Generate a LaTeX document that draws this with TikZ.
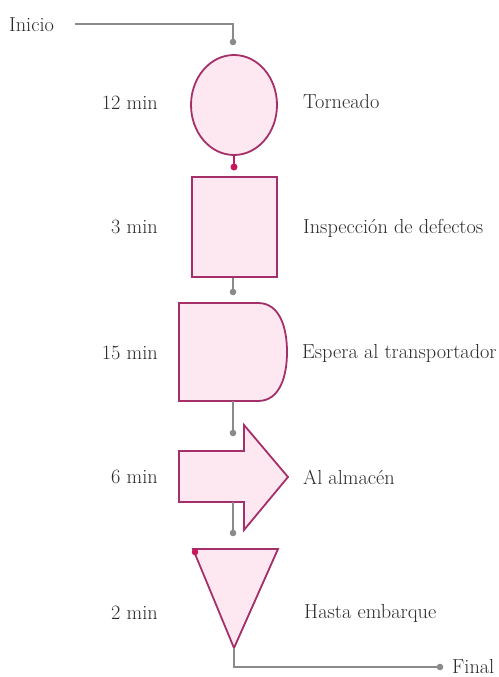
\documentclass[tikz,border=0pt]{standalone}
\usetikzlibrary{calc,shapes.geometric}
\definecolor{shapeline}{HTML}{A52F69}
\definecolor{shapefill}{HTML}{FDE7F0}
\definecolor{conn}{HTML}{8A8A8A}
\definecolor{pinkdot}{HTML}{C8175C}
\definecolor{txt}{HTML}{2A2A2A}
\begin{document}
\begin{tikzpicture}[x=1pt,y=-1pt,
  shp/.style={draw=shapeline,fill=shapefill,line width=1.8pt,line join=miter},
  cline/.style={draw=conn,line width=1.2pt},
  gdot/.style={fill=conn},
  pdot/.style={fill=pinkdot},
  lbl/.style={inner sep=0pt,text=txt,font=\fontsize{20.3}{24}\selectfont}]
\useasboundingbox (0,0) rectangle (498,677);
% labels
\node[lbl,anchor=west] (inicio) at (9,25) {Inicio};
\node[lbl,anchor=west] (final) at (452,667) {Final};
\node[lbl,anchor=east] (t1) at (158,103) {12 min};
\node[lbl,anchor=east] (t2) at (158,227) {3 min};
\node[lbl,anchor=east] (t3) at (158,353) {15 min};
\node[lbl,anchor=east] (t4) at (158,477) {6 min};
\node[lbl,anchor=east] (t5) at (158,613) {2 min};
\node[lbl,anchor=west] (d1) at (303,102) {Torneado};
\node[lbl,anchor=west] (d2) at (303,228) {Inspección de defectos};
\node[lbl,anchor=west] (d3) at (302,353) {Espera al transportador};
\node[lbl,anchor=west] (d4) at (303,477) {Al almacén};
\node[lbl,anchor=west] (d5) at (304,613) {Hasta embarque};
% shapes
\node[shp,ellipse,minimum width=86pt,minimum height=100pt,inner sep=0pt] (op) at (234,105) {};
\node[shp,rectangle,minimum width=85pt,minimum height=100pt,inner sep=0pt] (insp) at (234.5,227) {};
\draw[shp] (179,303) -- (258,303) .. controls (280,303) and (287,328) .. (287,352)
  .. controls (287,376) and (280,401) .. (258,401) -- (179,401) -- cycle;
\coordinate (esptop) at (233,303);
\coordinate (espbot) at (233,401);
\draw[shp] (179,451) -- (244,451) -- (244,425) -- (288,477) -- (244,530) -- (244,502) -- (179,502) -- cycle;
\coordinate (arrbot) at (233,502);
\draw[shp] (193,549) -- (278,549) -- (234,648) -- cycle;
\coordinate (tritip) at (234,648);
% connector points
\coordinate (c00) at (75,24);
\coordinate (c0) at (233,24);
\coordinate (g0) at (233,42);
\coordinate (p1) at (234,167);
\coordinate (g1) at (233,292);
\coordinate (g2) at (233,433);
\coordinate (g3) at (233,533);
\coordinate (c5) at (234,667);
\coordinate (g5) at (440,667);
% connectors
\draw[cline] (c00) -- (c0) -- (g0);
\fill[gdot] (g0) circle (3.3pt);
\draw[line width=1.6pt,draw=pinkdot] (op.south) -- (p1);
\fill[pdot] (p1) circle (3.5pt);
\draw[cline] (insp.south -| g1) -- (g1);
\fill[gdot] (g1) circle (3.3pt);
\draw[cline] (espbot) -- (g2);
\fill[gdot] (g2) circle (3.3pt);
\draw[cline] (arrbot) -- (g3);
\fill[gdot] (g3) circle (3.3pt);
\fill[pdot] (195,552) circle (3.3pt);
\draw[cline] (tritip) -- (c5) -- (g5);
\fill[gdot] (g5) circle (3.3pt);
\end{tikzpicture}
\end{document}
